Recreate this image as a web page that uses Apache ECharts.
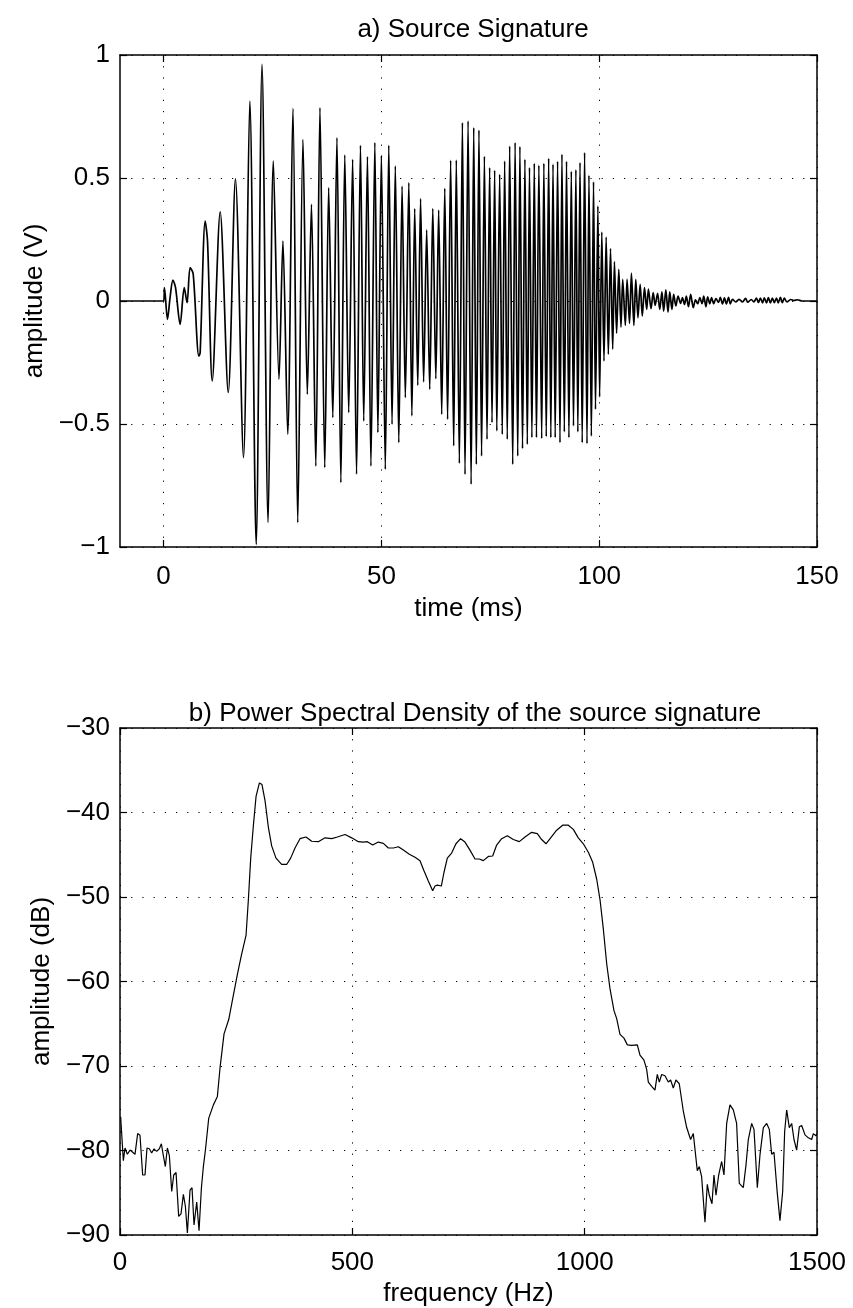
<!DOCTYPE html>
<html>
<head>
<meta charset="utf-8">
<script src="https://cdn.jsdelivr.net/npm/echarts@6/dist/echarts.min.js"></script>
<style>
  html, body { margin: 0; padding: 0; background: #fff; }
  #chart { width: 853px; height: 1308px; }
</style>
</head>
<body>
<div id="chart"></div>
<script>
// ---- a) Source signature: extrema (time in ms, amplitude in V)
const sigTime = [-10, 0, 0.2, 0.9, 1.5, 2.15, 2.75, 3.8, 4.75, 5.4, 6.1, 6.8, 8.1, 8.4, 9.56, 10.1, 11.17, 13.0, 14.85, 16.5, 18.35, 19.8, 21.26, 22.6, 24.0,
  25.2, 26.5, 27.4, 28.5, 29.7, 30.8, 32.0, 33.0, 33.95, 34.95, 35.9, 37.0, 37.9, 38.85, 39.8, 40.7, 41.6, 42.5, 43.4, 44.3, 45.2, 45.95, 46.8, 47.6, 48.5, 49.2,
  50.0, 50.9, 51.7, 52.45, 53.2, 54.0, 54.75, 55.5, 56.3, 57.0, 57.65, 58.35, 59.0, 59.7, 60.4, 61.1, 61.8, 62.5, 63.15, 63.85, 64.55, 65.2, 65.9, 66.6, 67.2, 67.9,
  68.6, 69.2, 69.9, 70.6, 71.2, 71.8, 72.4, 73.0, 73.65, 74.25, 74.85, 75.4, 76.0, 76.5, 77.15, 77.75, 78.3, 78.9, 79.45, 80.15, 80.7, 81.3, 81.8, 82.4, 82.95, 83.5,
  84.0, 84.55, 85.1, 85.6, 86.15, 86.8, 87.3, 87.85, 88.4, 88.9, 89.4, 89.9, 90.45, 91.0, 91.45, 92.0, 92.5, 93.05, 93.6, 94.1, 94.65, 95.1, 95.6, 96.1, 96.65, 97.2,
  97.65, 98.2, 98.7, 99.15, 99.7, 100.1, 100.6, 101.1, 101.6, 102.1, 102.6, 103.1, 103.5, 104.0, 104.5, 105.0, 105.4, 106.0, 106.4, 106.96, 107.4, 107.96, 108.4,
  108.9, 109.4, 109.9, 110.4, 110.9, 111.3, 111.9, 112.4, 112.85, 113.4, 113.9, 114.4, 114.8, 115.3, 115.8, 116.2, 116.7, 117.1, 117.6, 118.1, 118.7, 119.1, 119.6,
  120.0, 120.5, 121.0, 121.6, 122.1, 122.6, 123.1, 123.6, 124.0, 124.5, 124.9, 125.4, 125.8, 126.3, 126.8, 127.4, 127.8, 128.3, 128.75, 129.2, 129.7, 130.1, 130.6,
  131.35, 132.1, 132.9, 133.6, 134.1, 134.9, 135.5, 136.1, 136.55, 137.0, 137.5, 137.9, 138.4, 138.84, 139.3, 139.76, 140.2, 140.7, 141.1, 141.6, 142.05, 142.5,
  143.1, 143.97, 144.7, 145.5, 146.6, 150];
const sigAmp = [0, 0, 0.054, -0.075, 0.015, 0.085, 0.054, -0.095, 0.054, -0.007, 0.136, 0.11, -0.224, -0.21, 0.325, 0.24, -0.325, 0.362, -0.372, 0.497, -0.637, 0.813, -0.99, 0.962, -0.9,
  0.569, -0.318, 0.244, -0.542, 0.783, -0.901, 0.657, -0.379, 0.393, -0.671, 0.786, -0.677, 0.461, -0.474, 0.664, -0.738, 0.594, -0.454, 0.576, -0.704, 0.633, -0.488, 0.587, -0.671, 0.644, -0.535,
  0.592, -0.684, 0.633, -0.501, 0.549, -0.576, 0.467, -0.393, 0.481, -0.467, 0.376, -0.343, 0.416, -0.329, 0.289, -0.359, 0.376, -0.316, 0.37, -0.461, 0.458, -0.481, 0.572, -0.589, 0.573, -0.66,
  0.725, -0.705, 0.732, -0.745, 0.705, -0.664, 0.695, -0.63, 0.588, -0.562, 0.542, -0.494, 0.531, -0.528, 0.515, -0.542, 0.569, -0.562, 0.63, -0.664, 0.644, -0.63, 0.628, -0.6, 0.576, -0.583,
  0.542, -0.555, 0.56, -0.555, 0.552, -0.559, 0.56, -0.551, 0.58, -0.555, 0.556, -0.555, 0.568, -0.576, 0.596, -0.532, 0.568, -0.555, 0.527, -0.508, 0.533, -0.532, 0.563, -0.576, 0.603, -0.58,
  0.511, -0.549, 0.484, -0.44, 0.386, -0.39, 0.28, -0.244, 0.26, -0.217, 0.213, -0.196, 0.16, -0.131, 0.129, -0.106, 0.088, -0.099, 0.088, -0.091, 0.113, -0.099, 0.088,
  -0.068, 0.068, -0.061, 0.054, -0.034, 0.048, -0.031, 0.034, -0.018, 0.031, -0.034, 0.037, -0.041, 0.045, -0.045, 0.037, -0.034, 0.027, -0.02, 0.02, -0.01, 0.014, -0.014,
  0.02, -0.023, 0.027, -0.027, 0.005, -0.011, 0.014, -0.011, 0.02, -0.023, 0.017, -0.011, 0.014, -0.011, 0.01, -0.006, 0.015, -0.012, 0.013, -0.012, 0.015, -0.012, 0.007,
  -0.004, 0.007, -0.004, 0.011, -0.005, 0.006, -0.004, 0.012, -0.006, 0.012, -0.008, 0.013, -0.008, 0.014, -0.008, 0.012, -0.007, 0.012, -0.008, 0.015, -0.007, 0.012,
  -0.004, 0.006, 0.002, 0.005, 0, 0];

// ---- b) Power spectral density (frequency in Hz, amplitude in dB)
const psdFreq = [1.4, 4, 7.2, 10.8, 15.8, 21.5, 27.3, 32.3, 38, 43, 48.8, 53.8, 58.1, 63.1, 68.2, 73.2, 78.9, 84.7, 89, 93.3, 97.6, 101.9, 106.2, 111.3, 115.6, 120.6,
  126.3, 131.3, 136.4, 140.7, 145, 150.7, 155, 159.3, 165.1, 170.1, 175.1, 179.4, 183.7, 188, 190.9, 195.2, 201, 209.6, 215.3, 223.9, 234, 244, 252.6, 261.2, 271.3,
  276.3, 281.3, 287.1, 292.8, 300, 305.6, 312.1, 319.3, 326.4, 335.7, 347.9, 358.7, 367.3, 376.6, 387.4, 400.3, 412.5, 426.8, 441.2, 455.6, 467.8, 484.3, 498.6,
  513, 523.7, 532.3, 543.8, 556, 566.8, 577.5, 588.3, 599.1, 609.8, 622.7, 634.9, 645.6, 654.2, 663.5, 672.9, 677.9, 682.9, 691.5, 697.2, 704.4, 713.7, 723, 733.1,
  742.4, 753.2, 764, 773.3, 781.9, 792.7, 802, 810.6, 821.3, 833.5, 846.4, 859.3, 871.6, 885.9, 898.1, 907.4, 916.8, 926.8, 939.7, 952.6, 964.8, 975.6, 986.3, 997.1,
  1007.9, 1017.3, 1025.9, 1033, 1040.1, 1047.4, 1054.5, 1063.1, 1068.9, 1076, 1084.6, 1091.8, 1101.1, 1113.3, 1119, 1127.6, 1133.4, 1137, 1144.1, 1151.3, 1156.3,
  1160.6, 1165.7, 1172.8, 1180, 1185, 1190.7, 1196.5, 1203.6, 1212.2, 1219.4, 1228, 1233.8, 1238, 1242.4, 1246.7, 1251.7, 1258.9, 1263.9, 1268.2, 1274, 1278.3,
  1282.6, 1288.4, 1294.8, 1299.8, 1305.6, 1312.7, 1319.9, 1327, 1332.8, 1341.4, 1347.2, 1352.2, 1359.4, 1364.4, 1371.6, 1377.4, 1384.5, 1391.7, 1397.4, 1402.4,
  1407.4, 1414.6, 1420.3, 1426.1, 1430.4, 1434.7, 1440.4, 1445.5, 1450.5, 1456.2, 1462, 1467, 1474.2, 1481.3, 1488.5, 1492.1, 1497.8, 1500];
const psdDb = [-76.0, -76.1, -81.2, -79.7, -80.45, -79.95, -80.2, -80.45, -78.0, -78.2, -82.9, -82.9, -79.7, -79.8, -80.3, -79.8, -80.1, -79.8, -79.2, -80.6, -81.9, -79.7, -80.6, -84.85, -82.9, -82.6,
  -87.8, -87.5, -85.2, -86.6, -89.75, -84.7, -84.4, -88.8, -86.1, -89.5, -84.5, -81.9, -80.0, -77.75, -76.2, -76.2, -74.6, -73.6, -70.2, -66.2, -64.5, -61.6, -59.15, -56.9, -54.5,
  -50.3, -45.4, -41.5, -38.1, -36.5, -36.7, -38.6, -41.75, -43.95, -45.4, -46.15, -46.15, -45.4, -44.2, -43.1, -42.9, -43.4, -43.45, -43.0, -43.1, -42.9, -42.6, -43.0,
  -43.45, -43.5, -43.45, -43.85, -43.5, -43.65, -44.2, -44.2, -44.05, -44.45, -44.95, -45.3, -45.7, -46.9, -48.1, -49.25, -48.7, -48.6, -48.7, -47.1, -45.4, -44.8, -43.7, -43.1,
  -43.5, -44.45, -45.5, -45.5, -45.7, -45.2, -45.15, -43.85, -43.1, -42.75, -43.2, -43.45, -42.9, -42.35, -42.5, -43.2, -43.7, -43.0, -42.1, -41.5, -41.5, -42.0, -43.0, -43.7,
  -44.7, -45.9, -47.9, -50.3, -53.75, -57.9, -60.85, -63.45, -64.4, -66.25, -66.7, -67.5, -67.55, -67.5, -68.7, -69.3, -70.4, -71.9, -72.4, -72.85, -71.0,
  -71.9, -71.0, -71.15, -71.9, -71.65, -72.6, -71.65, -72.1, -75.3, -77.25, -78.7, -78.0, -78.2, -82.4, -81.9, -83.1, -88.5, -84.0, -85.3, -86.3, -82.9,
  -85.3, -82.9, -81.3, -82.9, -76.8, -74.6, -75.2, -76.8, -83.9, -84.4, -81.7, -78.7, -76.8, -77.5, -84.4, -80.45, -77.3, -76.8, -77.5, -80.45,
  -80.2, -85.1, -88.3, -84.85, -77.75, -75.2, -77.3, -76.8, -78.7, -79.95, -77.2, -77.05, -78.15, -78.5, -78.7, -78.0, -78.25, -78.0];

// ---- tick values
const timeTicks = [0, 50, 100, 150];
const ampTicks = { min: -1, max: 1, interval: 0.5 };
const freqTicks = { min: 0, max: 1500, interval: 500 };
const dbTicks = { min: -90, max: -30, interval: 10 };

const FONT = 'Liberation Sans, Arial, Helvetica, sans-serif';
const FS = 26;
const minus = v => String(v).replace('-', '\u2212');
const gridLine = { show: true, lineStyle: { color: '#000', width: 1, type: [1.2, 10] } };
const axisLine = { show: true, onZero: false, lineStyle: { color: '#000', width: 1.5 } };
const tick = { show: true, inside: true, length: 7, lineStyle: { color: '#000', width: 1.2 } };
const lbl = { color: '#000', fontSize: FS, fontFamily: FONT };

const chart = echarts.init(document.getElementById('chart'), null, { renderer: 'canvas' });
chart.setOption({
  animation: false,
  backgroundColor: '#fff',
  title: [
    { text: 'a) Source Signature', left: 468, top: 12, textAlign: 'center',
      textStyle: { fontSize: FS, fontWeight: 'normal', color: '#000', fontFamily: FONT } },
    { text: 'b) Power Spectral Density of the source signature', left: 470, top: 696, textAlign: 'center',
      textStyle: { fontSize: FS, fontWeight: 'normal', color: '#000', fontFamily: FONT } }
  ],
  grid: [
    { left: 120, top: 55, width: 697, height: 492, containLabel: false },
    { left: 120, top: 728, width: 697, height: 508, containLabel: false }
  ],
  xAxis: [
    { type: 'value', gridIndex: 0, min: -10, max: 150, position: 'bottom',
      axisLine, axisTick: Object.assign({}, tick, { customValues: timeTicks }),
      axisLabel: Object.assign({}, lbl, { margin: 17, customValues: timeTicks, formatter: minus }),
      splitLine: gridLine,
      name: 'time (ms)', nameLocation: 'middle', nameGap: 49, nameTextStyle: lbl },
    { type: 'value', gridIndex: 0, min: -10, max: 150, position: 'top',
      axisLine, axisTick: Object.assign({}, tick, { customValues: timeTicks }),
      axisLabel: { show: false }, splitLine: { show: false } },
    { type: 'value', gridIndex: 1, min: freqTicks.min, max: freqTicks.max, interval: freqTicks.interval, position: 'bottom',
      axisLine, axisTick: tick,
      axisLabel: Object.assign({}, lbl, { margin: 15, formatter: minus }),
      splitLine: gridLine,
      name: 'frequency (Hz)', nameLocation: 'middle', nameGap: 46, nameTextStyle: lbl },
    { type: 'value', gridIndex: 1, min: freqTicks.min, max: freqTicks.max, interval: freqTicks.interval, position: 'top',
      axisLine, axisTick: tick, axisLabel: { show: false }, splitLine: { show: false } }
  ],
  yAxis: [
    { type: 'value', gridIndex: 0, min: ampTicks.min, max: ampTicks.max, interval: ampTicks.interval, position: 'left',
      axisLine, axisTick: tick,
      axisLabel: Object.assign({}, lbl, { margin: 10, formatter: minus }),
      splitLine: gridLine,
      name: 'amplitude (V)', nameLocation: 'middle', nameGap: 56, nameTextStyle: lbl },
    { type: 'value', gridIndex: 0, min: ampTicks.min, max: ampTicks.max, interval: ampTicks.interval, position: 'right',
      axisLine, axisTick: tick, axisLabel: { show: false }, splitLine: { show: false } },
    { type: 'value', gridIndex: 1, min: dbTicks.min, max: dbTicks.max, interval: dbTicks.interval, position: 'left',
      axisLine, axisTick: tick,
      axisLabel: Object.assign({}, lbl, { margin: 10, formatter: minus }),
      splitLine: gridLine,
      name: 'amplitude (dB)', nameLocation: 'middle', nameGap: 56, nameTextStyle: lbl },
    { type: 'value', gridIndex: 1, min: dbTicks.min, max: dbTicks.max, interval: dbTicks.interval, position: 'right',
      axisLine, axisTick: tick, axisLabel: { show: false }, splitLine: { show: false } }
  ],
  series: [
    { type: 'line', xAxisIndex: 0, yAxisIndex: 0, showSymbol: false, symbol: 'none', smooth: 0.3,
      lineStyle: { color: '#000', width: 1.7 }, z: 5,
      data: sigTime.map((t, i) => [t, sigAmp[i]]) },
    { type: 'line', xAxisIndex: 2, yAxisIndex: 2, showSymbol: false, symbol: 'none',
      lineStyle: { color: '#000', width: 1.2 }, z: 5,
      data: psdFreq.map((f, i) => [f, psdDb[i]]) }
  ]
});
</script>
</body>
</html>
